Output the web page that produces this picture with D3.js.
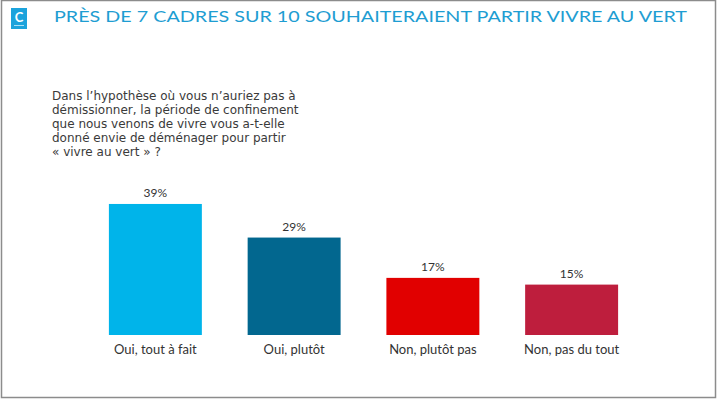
<!DOCTYPE html>
<html>
<head>
<meta charset="utf-8">
<script src="https://cdn.jsdelivr.net/npm/d3@7"></script>
<style>
  html, body { margin: 0; padding: 0; background: #fff; }
  svg { display: block; }
</style>
</head>
<body>
<div id="chart"></div>
<script>
// ---- data ----
const categories = ['Oui, tout à fait', 'Oui, plutôt', 'Non, plutôt pas', 'Non, pas du tout'];
const values     = [39, 29, 17, 15];
const barColors  = ['#00b4ea', '#02678f', '#e10000', '#be1e3d'];
const titleText  = 'PRÈS DE 7 CADRES SUR 10 SOUHAITERAIENT PARTIR VIVRE AU VERT';
const questionLines = [
  'Dans l\u2019hypothèse où vous n\u2019auriez pas à',
  'démissionner, la période de confinement',
  'que nous venons de vivre vous a-t-elle',
  'donné envie de déménager pour partir',
  '« vivre au vert » ?'
];

const W = 717, H = 399;
const FONT = 'Lato, "Open Sans", sans-serif';
const QFONT = '"DejaVu Sans", sans-serif';

const svg = d3.select('#chart').append('svg')
  .attr('width', W).attr('height', H)
  .attr('viewBox', `0 0 ${W} ${H}`);

// frame
svg.append('rect')
  .attr('x', 1.5).attr('y', 0.5)
  .attr('width', 714).attr('height', 397)
  .attr('fill', '#fff')
  .attr('stroke', '#8c8c8c').attr('stroke-width', 1.5);

// logo block
const logo = svg.append('g').attr('transform', 'translate(11,8)');
logo.append('rect').attr('width', 16).attr('height', 21).attr('fill', '#1ca3dc');
logo.append('text')
  .attr('x', 8).attr('y', 14)
  .attr('text-anchor', 'middle')
  .attr('font-family', FONT).attr('font-size', 13).attr('font-weight', 700)
  .attr('fill', '#fff')
  .text('C');
logo.append('rect').attr('x', 3).attr('y', 17).attr('width', 10).attr('height', 0.8).attr('fill', '#cfeefa');

// title
svg.append('text')
  .attr('x', 54).attr('y', 22)
  .attr('font-family', FONT).attr('font-size', 16)
  .attr('fill', '#1e9dd2')
  .attr('textLength', 633).attr('lengthAdjust', 'spacingAndGlyphs')
  .text(titleText);

// question
svg.append('g').selectAll('text')
  .data(questionLines)
  .join('text')
  .attr('x', 52)
  .attr('y', (d, i) => 100 + i * 14)
  .attr('font-family', QFONT).attr('font-size', 12)
  .attr('fill', '#3a3a3a')
  .text(d => d);

// scales
const x = d3.scaleBand()
  .domain(categories)
  .range([86, 641])
  .paddingInner(0.33)
  .paddingOuter(0.165);

const y = d3.scaleLinear()
  .domain([0, 100])
  .range([335, -1]);

const data = categories.map((c, i) => ({ cat: c, value: values[i], color: barColors[i] }));

// bars
svg.append('g').selectAll('rect')
  .data(data)
  .join('rect')
  .attr('x', d => x(d.cat))
  .attr('y', d => y(d.value))
  .attr('width', x.bandwidth())
  .attr('height', d => y(0) - y(d.value))
  .attr('fill', d => d.color);

// value labels
svg.append('g').selectAll('text')
  .data(data)
  .join('text')
  .attr('x', d => x(d.cat) + x.bandwidth() / 2)
  .attr('y', d => y(d.value) - 7)
  .attr('text-anchor', 'middle')
  .attr('font-family', FONT).attr('font-size', 12)
  .attr('fill', '#333')
  .text(d => d.value + '%');

// category labels (axis without line/ticks)
const xAxis = svg.append('g')
  .attr('transform', `translate(0,${y(0)})`)
  .call(d3.axisBottom(x).tickSize(0).tickPadding(10));
xAxis.select('.domain').remove();
xAxis.selectAll('text')
  .attr('dy', '0.71em')
  .attr('font-family', FONT).attr('font-size', 13)
  .attr('fill', '#333');
</script>
</body>
</html>
